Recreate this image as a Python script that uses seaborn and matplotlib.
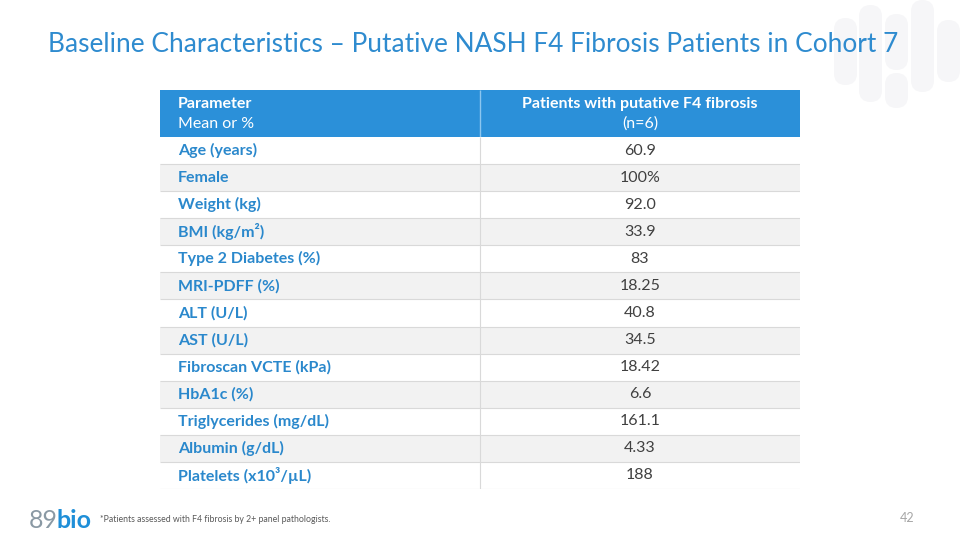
import numpy as np
import matplotlib
matplotlib.use('Agg')
import matplotlib.pyplot as plt
from matplotlib.colors import ListedColormap
from matplotlib.patches import FancyBboxPatch
import seaborn as sns

# table content
params = ['Age (years)', 'Female', 'Weight (kg)', 'BMI (kg/m²)', 'Type 2 Diabetes (%)',
          'MRI-PDFF (%)', 'ALT (U/L)', 'AST (U/L)', 'Fibroscan VCTE (kPa)', 'HbA1c (%)',
          'Triglycerides (mg/dL)', 'Albumin (g/dL)', 'Platelets (x10³/µL)']
values = ['60.9', '100%', '92.0', '33.9', '83', '18.25', '40.8', '34.5', '18.42',
          '6.6', '161.1', '4.33', '188']
header_left = ['Parameter', 'Mean or %']
header_right = ['Patients with putative F4 fibrosis', '(n=6)']
title = 'Baseline Characteristics – Putative NASH F4 Fibrosis Patients in Cohort 7'
footnote = '*Patients assessed with F4 fibrosis by 2+ panel pathologists.'
page_no = '42'

sns.set_style('white')
plt.rcParams['font.family'] = ['Lato', 'DejaVu Sans']

blue = '#2b90d9'
title_blue = '#2e8bcf'
label_blue = '#2a88cc'
stripe = '#f2f2f2'

fig = plt.figure(figsize=(9.6, 5.4), dpi=100)

# background layer in pixel coordinates (decoration, logo, title)
bg = fig.add_axes([0, 0, 1, 1], zorder=0)
bg.set_xlim(0, 960)
bg.set_ylim(540, 0)
bg.axis('off')

pills = [(834, 18, 85), (859, 5, 102), (885, 14, 70), (885, 73, 108), (911, 0, 92), (937, 20, 82)]
for x0, y0, y1 in pills:
    bg.add_patch(FancyBboxPatch((x0, y0), 23, y1 - y0,
                                boxstyle='round,pad=0,rounding_size=11.5',
                                fc='#f6f6f8', ec='none'))

t = bg.text(48, 45, title, color=title_blue, fontsize=19, va='center', ha='left')
fig.canvas.draw()
w = t.get_window_extent().width
t.set_fontsize(19 * 850 / w)

bg.text(29, 528, '89', color='#8a99a4', fontsize=18, ha='left', va='baseline')
bg.text(56, 528, 'bio', color='#1f8fd8', fontsize=18, fontweight='bold', ha='left', va='baseline')
bg.text(100, 519, footnote, color='#595959', fontsize=6.3, ha='left', va='center')
bg.text(907, 518, page_no, color='#a6a6a6', fontsize=9, ha='center', va='center')

cmap = ListedColormap(['#ffffff', stripe, blue])
lx = 18 / 320

# header row
hax = fig.add_axes([160 / 960, (540 - 137) / 540, 640 / 960, 47 / 540], zorder=1)
sns.heatmap(np.full((1, 2), 2), ax=hax, cmap=cmap, vmin=-0.5, vmax=2.5, cbar=False,
            xticklabels=False, yticklabels=False)
hax.vlines(1, 0, 1, color='#8cc6ef', lw=1.0)
hax.text(lx, 0.29, header_left[0], color='white', fontsize=11.5, fontweight='bold', va='center')
hax.text(lx, 0.72, header_left[1], color='white', fontsize=11.5, va='center')
hax.text(1.5, 0.29, header_right[0], color='white', fontsize=11.5, fontweight='bold', ha='center', va='center')
hax.text(1.5, 0.72, header_right[1], color='white', fontsize=11.5, ha='center', va='center')

# body rows, alternating stripes
n = len(params)
grid = np.array([[i % 2, i % 2] for i in range(n)])
ax = fig.add_axes([160 / 960, (540 - 489) / 540, 640 / 960, 352 / 540], zorder=1)
sns.heatmap(grid, ax=ax, cmap=cmap, vmin=-0.5, vmax=2.5, cbar=False,
            xticklabels=False, yticklabels=False)
ax.hlines(np.arange(1, n + 1), 0, 2, color='#d9d9d9', lw=0.8)
ax.vlines(1, 0, n, color='#d9d9d9', lw=0.8)

for i, (p, v) in enumerate(zip(params, values)):
    y = i + 0.5
    ax.text(lx, y, p, color=label_blue, fontsize=11.5, fontweight='bold', va='center')
    ax.text(1.5, y, v, color='#404040', fontsize=11.5, ha='center', va='center')

fig.savefig('out.png', dpi=100)
